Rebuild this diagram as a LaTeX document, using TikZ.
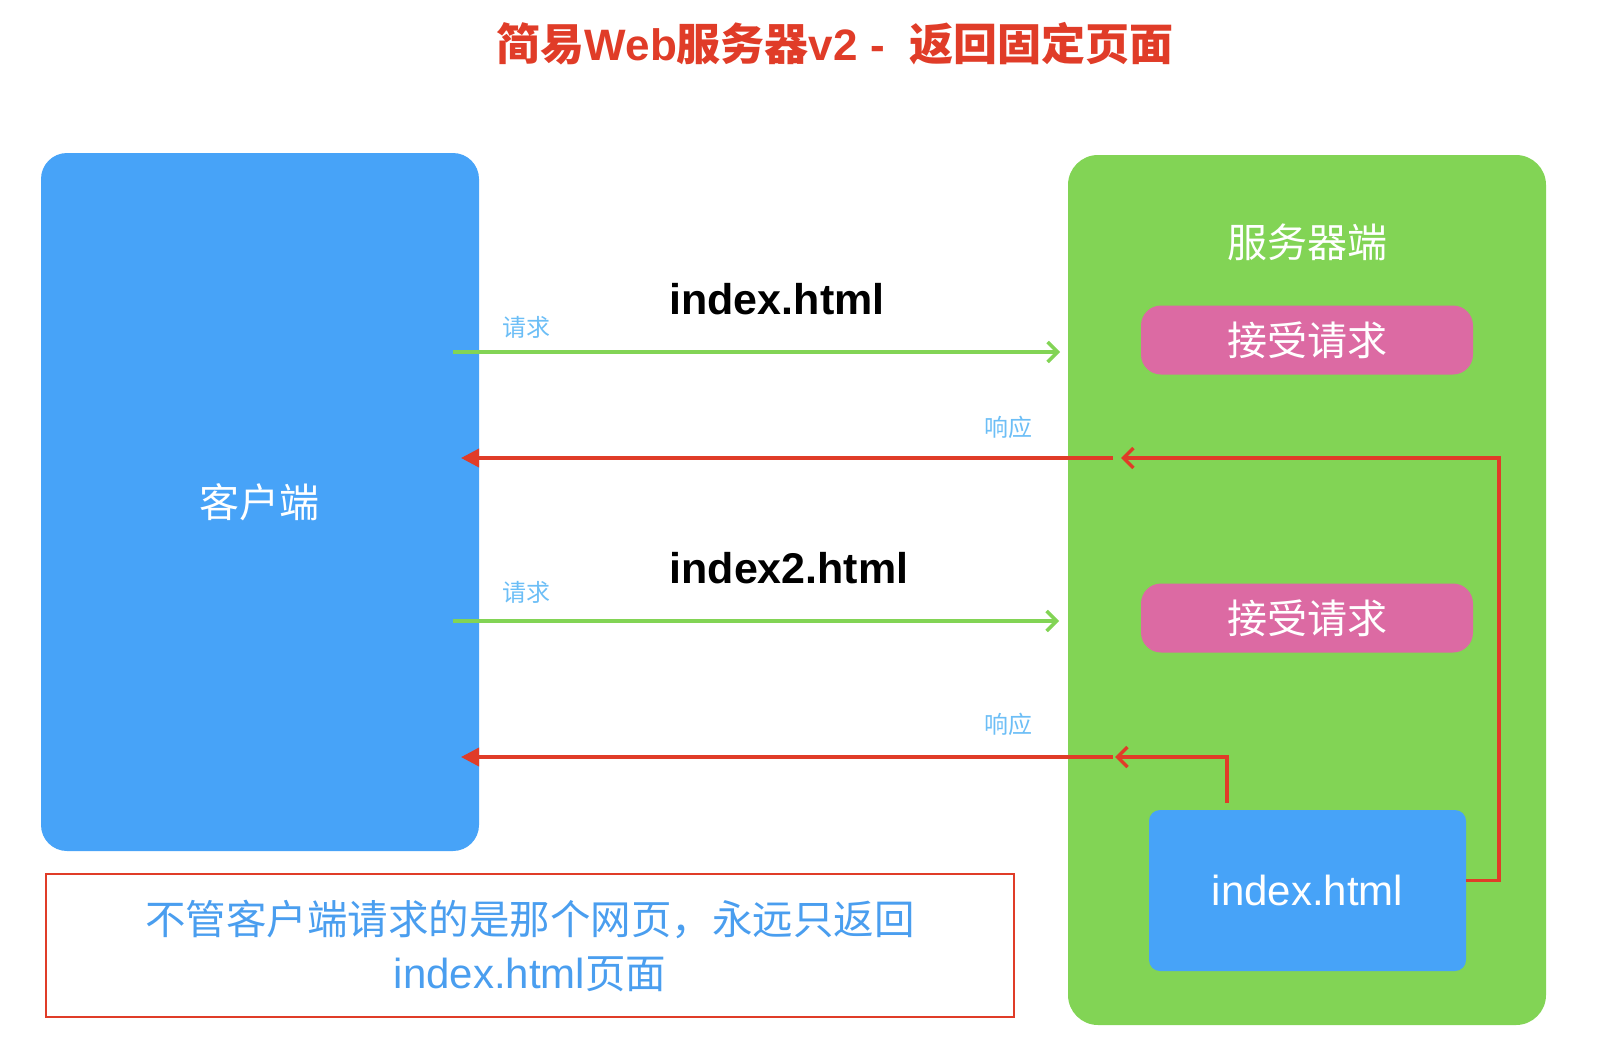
\documentclass[tikz,border=0pt]{standalone}
\usepackage{fontspec}
\setmainfont{Liberation Sans}
\newfontfamily\cjk{Noto Sans CJK SC}
\usetikzlibrary{arrows.meta}
\definecolor{cblue}{HTML}{47A3F8}
\definecolor{cgreen}{HTML}{82D455}
\definecolor{cpink}{HTML}{DC6AA3}
\definecolor{cred}{HTML}{E03C28}
\definecolor{clabel}{HTML}{6CBEF6}
\definecolor{cnote}{HTML}{4A9EEF}
\newcommand{\fs}[1]{\fontsize{#1}{#1}\selectfont}
\tikzset{
  panel/.style={inner sep=0pt, outer sep=0pt},
  pinkbox/.style={fill=cpink, rounded corners=20pt, minimum width=332pt, minimum height=69pt, inner sep=0pt, text=white, font=\fs{40}\cjk},
  smalllabel/.style={text=clabel, font=\fs{24}\cjk, inner sep=0pt},
  filelabel/.style={text=black, font=\fs{43}\bfseries, inner sep=0pt},
  reqarrow/.style={draw=cgreen, line width=3.5pt, -{Straight Barb[length=10pt,width=20pt,line width=3.5pt]}},
  resarrow/.style={draw=cred, line width=3.5pt, -{Triangle[length=18pt,width=18pt]}},
  resbarb/.style={draw=cred, line width=3.5pt, -{Straight Barb[length=10pt,width=20pt,line width=3.5pt]}}
}
\begin{document}
\begin{tikzpicture}[x=1pt,y=-1pt]
\useasboundingbox (0,0) rectangle (1600,1054);
% title
\node[text=cred, font=\fs{44}\bfseries, inner sep=0pt] (title) at (835,44) {{\cjk 简易}Web{\cjk 服务器}v2 -\ \ {\cjk 返回固定页面}};
% client
\draw[fill=cblue, draw=none, rounded corners=26pt] (41,153) rectangle (479,851);
\node[panel] (client) at (260,502) {};
\node[text=white, font=\fs{40}\cjk, inner sep=0pt] (clientlabel) at (259,502) {客户端};
% server
\draw[fill=cgreen, draw=none, rounded corners=30pt] (1068,155) rectangle (1546,1025);
\node[text=white, font=\fs{40}\cjk, inner sep=0pt] (serverlabel) at (1307,242) {服务器端};
\node[pinkbox] (acc1) at (1307,340) {接受请求};
\node[pinkbox] (acc2) at (1307,618) {接受请求};
\node[fill=cblue, rounded corners=11pt, minimum width=317pt, minimum height=161pt, inner sep=0pt, text=white, font=\fs{42}] (page) at (1307.5,890.5) {index.html};
% labels
\node[filelabel] (f1) at (777,299) {index.html};
\node[filelabel] (f2) at (789,568) {index2.html};
\node[smalllabel] (q1) at (526,327) {请求};
\node[smalllabel] (q2) at (526,592) {请求};
\node[smalllabel] (r1) at (1008,427) {响应};
\node[smalllabel] (r2) at (1008,724) {响应};
% coordinates
\coordinate (g1s) at (453,352);
\coordinate (g1e) at (1060,352);
\coordinate (g2s) at (453,621);
\coordinate (g2e) at (1059,621);
\coordinate (r1a) at (1499,458);
\coordinate (r1tip) at (1121,458);
\coordinate (r1s) at (1113,458);
\coordinate (r1e) at (461,458);
\coordinate (r2a) at (1227,757);
\coordinate (r2tip) at (1115,757);
\coordinate (r2s) at (1113,757);
\coordinate (r2e) at (461,757);
\coordinate (r2b) at (1227,803);
% request arrows
\draw[reqarrow] (g1s) -- (g1e);
\draw[reqarrow] (g2s) -- (g2e);
% response 1
\draw[resbarb] ([yshift=10pt]page.east) -| (r1a) -- (r1tip);
\draw[resarrow] (r1s) -- (r1e);
% response 2
\draw[resbarb] (r2b) -- (r2a) -- (r2tip);
\draw[resarrow] (r2s) -- (r2e);
% note
\draw[draw=cred, line width=1.5pt] (46,874) rectangle (1014,1017);
\node[text=cnote, font=\fs{40.5}\cjk, align=center, inner sep=0pt] (note) at (530,946) {不管客户端请求的是那个网页，永远只返回\\[14pt]{\fontspec{Liberation Sans}\fs{42}index.html}页面};
\end{tikzpicture}
\end{document}
